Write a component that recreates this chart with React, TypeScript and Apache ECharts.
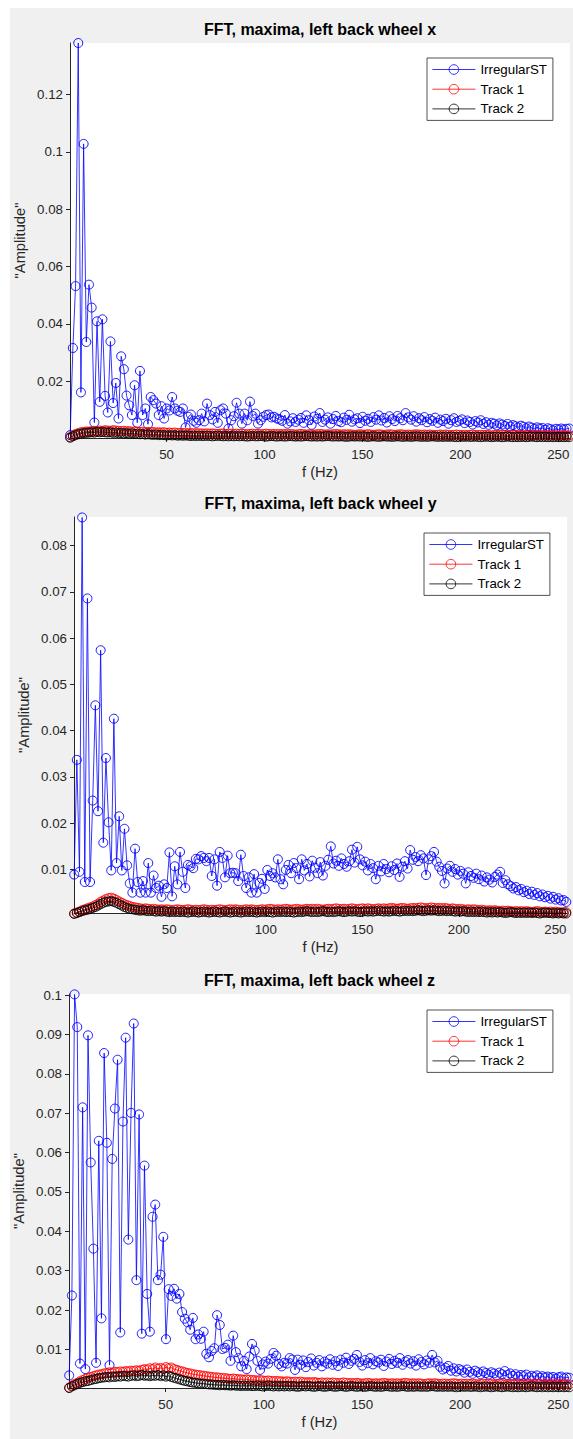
import React, { useEffect, useRef } from 'react';
import * as echarts from 'echarts';

// frequency grid of the FFT (Hz)
const FREQ_START = 0.8;
const FREQ_STEP = 1.37;

const SERIES_NAMES = ['IrregularST', 'Track 1', 'Track 2'];
const X_TICKS = [50, 100, 150, 200, 250];
const Y_TICKS_X = [0.02, 0.04, 0.06, 0.08, 0.1, 0.12];
const Y_TICKS_Y = [0.01, 0.02, 0.03, 0.04, 0.05, 0.06, 0.07, 0.08];
const Y_TICKS_Z = [0.01, 0.02, 0.03, 0.04, 0.05, 0.06, 0.07, 0.08, 0.09, 0.1];

// left back wheel x
const IRREGULAR_X = [
  0.0012, 0.0316, 0.0532, 0.138, 0.0161, 0.1028, 0.0337, 0.0537, 0.0457, 0.0056,
  0.0409, 0.0128, 0.0416, 0.0149, 0.0091, 0.0339, 0.0124, 0.0194, 0.007, 0.0287,
  0.0242, 0.015, 0.0116, 0.0082, 0.0186, 0.0055, 0.0236, 0.0082, 0.0105, 0.005,
  0.0145, 0.0134,
  0.0122, 0.0082, 0.0113, 0.007, 0.0105, 0.0098, 0.0145, 0.0105, 0.0097, 0.0093,
  0.0105, 0.0039, 0.0076, 0.0084, 0.0062, 0.0055, 0.0064, 0.0087, 0.006, 0.0122,
  0.0082, 0.0067, 0.0093, 0.0055, 0.0099, 0.0105, 0.0087, 0.0035, 0.0064, 0.0078,
  0.0125, 0.0087, 0.0052, 0.0087, 0.0064, 0.0129, 0.0079, 0.0087, 0.0052, 0.0064,
  0.0076, 0.0082, 0.0084, 0.0074, 0.0076, 0.007, 0.0067, 0.0062, 0.0082, 0.0052,
  0.006, 0.0071, 0.0058, 0.0066,
  0.0072, 0.0055, 0.0081, 0.0064, 0.0048, 0.0077, 0.0069, 0.0089, 0.0058, 0.0066,
  0.0074, 0.0052, 0.0068, 0.0079, 0.0061, 0.0057, 0.0073, 0.0065, 0.0083, 0.0059,
  0.0067, 0.0071, 0.0054, 0.0076, 0.0062, 0.0069, 0.0058, 0.0075, 0.0066, 0.0081,
  0.0063, 0.0072, 0.0056, 0.0078, 0.0068, 0.0061, 0.0079, 0.0071, 0.0064, 0.0089,
  0.0074, 0.0066, 0.0078, 0.0059, 0.0071, 0.0064, 0.0075, 0.0057, 0.0068, 0.0062,
  0.0073, 0.0055, 0.0066, 0.0061, 0.0069, 0.0052, 0.0064, 0.0071, 0.0058, 0.0062,
  0.0067, 0.0054, 0.0063, 0.0058, 0.0049, 0.0061, 0.0056, 0.0064, 0.0051, 0.0057,
  0.0048, 0.0055, 0.0052, 0.0046, 0.0053, 0.0049, 0.0044, 0.0051, 0.0042, 0.0047,
  0.0043, 0.0039, 0.0045, 0.0041, 0.0036, 0.0042, 0.0038, 0.0034, 0.0039, 0.0035,
  0.0037, 0.0031, 0.0036, 0.0033, 0.0029, 0.0034, 0.0031, 0.0035, 0.0032, 0.0034, 0.0035,
];
const TRACK1_X = [
  0.0005, 0.0011, 0.0016, 0.0019, 0.0022, 0.0023, 0.0025, 0.0024, 0.0026, 0.0027,
  0.0026, 0.0028, 0.0027, 0.0029, 0.0028, 0.0027, 0.0029, 0.0028, 0.0027, 0.0026,
  0.0027, 0.0025, 0.0026, 0.0024, 0.0025, 0.0024, 0.0023, 0.0024, 0.0022, 0.0023,
  0.0022, 0.0023, 0.0021, 0.0022, 0.0021, 0.0022, 0.002, 0.0021, 0.002, 0.0021,
  0.0019, 0.002, 0.0019, 0.002, 0.0018, 0.0019, 0.0018, 0.0019, 0.0018, 0.0018,
  0.0017, 0.0018, 0.0017, 0.0018, 0.0017, 0.0016, 0.0017, 0.0018, 0.0016, 0.0017,
  0.0017, 0.0016, 0.0017, 0.0016, 0.0017, 0.0016, 0.0015, 0.0016, 0.0017, 0.0016,
  0.0016, 0.0015, 0.0016, 0.0017, 0.0016, 0.0015, 0.0016, 0.0015, 0.0016, 0.0015,
  0.0016, 0.0015, 0.0016, 0.0015, 0.0014, 0.0015, 0.0016, 0.0015, 0.0014, 0.0015,
  0.0015, 0.0014, 0.0015, 0.0016, 0.0015, 0.0014, 0.0015, 0.0014, 0.0015, 0.0016,
  0.0015, 0.0014, 0.0015, 0.0014, 0.0015, 0.0014, 0.0013, 0.0014, 0.0015, 0.0014,
  0.0014, 0.0015, 0.0014, 0.0013, 0.0014, 0.0015, 0.0014, 0.0013, 0.0014, 0.0015,
  0.0014, 0.0013, 0.0014, 0.0015, 0.0014, 0.0013, 0.0014, 0.0013, 0.0014, 0.0015,
  0.0014, 0.0013, 0.0014, 0.0013, 0.0014, 0.0013, 0.0012, 0.0013, 0.0014, 0.0013,
  0.0014, 0.0013, 0.0012, 0.0013, 0.0014, 0.0013, 0.0012, 0.0013, 0.0012, 0.0013,
  0.0014, 0.0013, 0.0012, 0.0013, 0.0012, 0.0013, 0.0012, 0.0011, 0.0012, 0.0013,
  0.0012, 0.0013, 0.0012, 0.0011, 0.0012, 0.0013, 0.0012, 0.0011, 0.0012, 0.0011,
  0.0012, 0.0011, 0.0012, 0.0013, 0.0012, 0.0011, 0.0012, 0.0011, 0.0012, 0.0011,
  0.0012, 0.0011, 0.001, 0.0011, 0.0012, 0.0011, 0.0011,
];
const TRACK2_X = [
  0.0003, 0.0008, 0.0012, 0.0015, 0.0017, 0.0019, 0.002, 0.0021, 0.0022, 0.0021,
  0.0023, 0.0022, 0.0023, 0.0022, 0.0021, 0.0022, 0.002, 0.0021, 0.0019, 0.002,
  0.0018, 0.0019, 0.0017, 0.0018, 0.0016, 0.0017, 0.0015, 0.0016, 0.0014, 0.0015,
  0.0014, 0.0013, 0.0014, 0.0012, 0.0013, 0.0012, 0.0011, 0.0012, 0.0011, 0.0012,
  0.001, 0.0011, 0.001, 0.0011, 0.001, 0.0009, 0.001, 0.0009, 0.001, 0.0009,
  0.0009, 0.001, 0.0009, 0.0008, 0.0009, 0.001, 0.0009, 0.0008, 0.0009, 0.0008,
  0.0009, 0.0008, 0.0009, 0.0008, 0.0009, 0.0008, 0.0007, 0.0008, 0.0009, 0.0008,
  0.0008, 0.0009, 0.0008, 0.0007, 0.0008, 0.0009, 0.0008, 0.0007, 0.0008, 0.0008,
  0.0007, 0.0008, 0.0009, 0.0008, 0.0007, 0.0008, 0.0007, 0.0008, 0.0009, 0.0008,
  0.0007, 0.0008, 0.0007, 0.0008, 0.0007, 0.0008, 0.0009, 0.0008, 0.0007, 0.0008,
  0.0007, 0.0008, 0.0007, 0.0006, 0.0007, 0.0008, 0.0007, 0.0008, 0.0007, 0.0008,
  0.0007, 0.0006, 0.0007, 0.0008, 0.0007, 0.0006, 0.0007, 0.0008, 0.0007, 0.0007,
  0.0006, 0.0007, 0.0008, 0.0007, 0.0006, 0.0007, 0.0007, 0.0006, 0.0007, 0.0008,
  0.0007, 0.0006, 0.0007, 0.0006, 0.0007, 0.0008, 0.0007, 0.0006, 0.0007, 0.0006,
  0.0007, 0.0006, 0.0007, 0.0006, 0.0005, 0.0006, 0.0007, 0.0006, 0.0007, 0.0006,
  0.0006, 0.0007, 0.0006, 0.0005, 0.0006, 0.0007, 0.0006, 0.0005, 0.0006, 0.0007,
  0.0006, 0.0005, 0.0006, 0.0007, 0.0006, 0.0005, 0.0006, 0.0005, 0.0006, 0.0006,
  0.0005, 0.0006, 0.0007, 0.0006, 0.0005, 0.0006, 0.0005, 0.0006, 0.0005, 0.0006,
  0.0005, 0.0006, 0.0005, 0.0006, 0.0005, 0.0006, 0.0005,
];

// left back wheel y
const IRREGULAR_Y = [
  0.0089, 0.0337, 0.0095, 0.0861, 0.0073, 0.0686, 0.0073, 0.0249, 0.0455, 0.0226,
  0.0574, 0.0158, 0.0341, 0.0202, 0.0098, 0.0426, 0.0114, 0.0215, 0.0098, 0.0188,
  0.0109, 0.007, 0.005, 0.0145, 0.0073, 0.005, 0.0075, 0.005, 0.0114, 0.005,
  0.0087, 0.006, 0.0065, 0.0041, 0.0068, 0.006, 0.0137, 0.0042, 0.0107, 0.0068,
  0.0138, 0.0095, 0.006, 0.011, 0.0107, 0.0103, 0.0123, 0.0122, 0.0129, 0.0125,
  0.0118, 0.0125, 0.0086, 0.0122, 0.0065, 0.0138, 0.0125, 0.0083, 0.013, 0.0092,
  0.0093, 0.0092, 0.0075, 0.0132, 0.0086, 0.006, 0.0083, 0.005, 0.009, 0.005,
  0.0071, 0.008, 0.0058, 0.0099, 0.0086, 0.0092, 0.0083, 0.0122, 0.0079, 0.0068,
  0.0099, 0.011, 0.0092, 0.0114, 0.0103, 0.0079, 0.0122,
  0.0098, 0.0112, 0.0085, 0.0119, 0.0104, 0.0092, 0.0116, 0.0087, 0.0108, 0.0121,
  0.015, 0.0113, 0.0119, 0.0108, 0.0124, 0.0112, 0.0106, 0.0118, 0.0143, 0.0115,
  0.0149, 0.0122, 0.0109, 0.0117, 0.0098, 0.0112, 0.0103, 0.0079, 0.0108, 0.0096,
  0.0112, 0.0101, 0.0094, 0.0107, 0.0099, 0.0113, 0.0084, 0.0106, 0.0118, 0.0102,
  0.0142, 0.0121, 0.0127, 0.0118, 0.0131, 0.0124, 0.0088, 0.0122, 0.0129, 0.0138,
  0.0117, 0.0106, 0.0097, 0.007, 0.0102, 0.0108, 0.0095, 0.0101, 0.0089, 0.0097,
  0.0091, 0.007, 0.0094, 0.0086, 0.0082, 0.0091, 0.0079, 0.0087, 0.0074, 0.0083,
  0.0078, 0.0072, 0.0084, 0.0089, 0.0095, 0.0071, 0.0077, 0.0068, 0.0064, 0.0059,
  0.0062, 0.0055, 0.0058, 0.0051, 0.0054, 0.0047, 0.0052, 0.0045, 0.0049, 0.0042,
  0.0046, 0.004, 0.0043, 0.0037, 0.0041, 0.0035, 0.0038, 0.0033, 0.0034, 0.003,
];
const TRACK1_Y = [
  0.0005, 0.0007, 0.0009, 0.0012, 0.0014, 0.0016, 0.0018, 0.002, 0.0023, 0.0026,
  0.003, 0.0033, 0.0036, 0.0038, 0.0039, 0.0037, 0.0034, 0.0031, 0.0028, 0.0025,
  0.0023, 0.0021, 0.0019, 0.0018, 0.0017, 0.0016, 0.0015, 0.0016, 0.0015, 0.0014,
  0.0015, 0.0014, 0.0013, 0.0014, 0.0013, 0.0014, 0.0013, 0.0012, 0.0013, 0.0014,
  0.0013, 0.0012, 0.0013, 0.0014, 0.0013, 0.0012, 0.0013, 0.0012, 0.0013, 0.0014,
  0.0013, 0.0012, 0.0013, 0.0012, 0.0013, 0.0014, 0.0013, 0.0012, 0.0013, 0.0014,
  0.0013, 0.0014, 0.0013, 0.0012, 0.0013, 0.0014, 0.0013, 0.0014, 0.0013, 0.0012,
  0.0013, 0.0014, 0.0013, 0.0014, 0.0015, 0.0014, 0.0013, 0.0014, 0.0013, 0.0014,
  0.0015, 0.0014, 0.0013, 0.0014, 0.0015, 0.0014, 0.0013, 0.0014, 0.0015, 0.0014,
  0.0015, 0.0014, 0.0015, 0.0014, 0.0013, 0.0014, 0.0015, 0.0014, 0.0015, 0.0016,
  0.0015, 0.0014, 0.0015, 0.0014, 0.0015, 0.0016, 0.0015, 0.0014, 0.0015, 0.0016,
  0.0015, 0.0016, 0.0015, 0.0014, 0.0015, 0.0016, 0.0015, 0.0016, 0.0015, 0.0016,
  0.0017, 0.0016, 0.0015, 0.0016, 0.0017, 0.0016, 0.0015, 0.0016, 0.0017, 0.0016,
  0.0017, 0.0018, 0.0017, 0.0016, 0.0017, 0.0018, 0.0017, 0.0016, 0.0017, 0.0016,
  0.0017, 0.0016, 0.0015, 0.0016, 0.0015, 0.0014, 0.0015, 0.0014, 0.0013, 0.0014,
  0.0013, 0.0014, 0.0013, 0.0012, 0.0013, 0.0012, 0.0011, 0.0012, 0.0011, 0.0012,
  0.0011, 0.001, 0.0011, 0.001, 0.0011, 0.001, 0.0009, 0.001, 0.0009, 0.001,
  0.0009, 0.001, 0.0009, 0.0008, 0.0009, 0.001, 0.0009, 0.0008, 0.0009, 0.0008,
  0.0009, 0.0008, 0.0009, 0.0008, 0.0007, 0.0008, 0.0008,
];
const TRACK2_Y = [
  0.0004, 0.0006, 0.0008, 0.001, 0.0012, 0.0013, 0.0015, 0.0017, 0.0019, 0.0022,
  0.0025, 0.0028, 0.003, 0.0031, 0.0032, 0.003, 0.0028, 0.0025, 0.0022, 0.0019,
  0.0017, 0.0015, 0.0014, 0.0013, 0.0012, 0.0011, 0.0012, 0.0011, 0.001, 0.0011,
  0.001, 0.0009, 0.001, 0.0009, 0.001, 0.0009, 0.0008, 0.0009, 0.0008, 0.0009,
  0.0008, 0.0009, 0.0008, 0.0007, 0.0008, 0.0009, 0.0008, 0.0007, 0.0008, 0.0009,
  0.0008, 0.0007, 0.0008, 0.0009, 0.0008, 0.0007, 0.0008, 0.0009, 0.0008, 0.0007,
  0.0008, 0.0009, 0.0008, 0.0007, 0.0008, 0.0009, 0.0008, 0.0009, 0.0008, 0.0007,
  0.0008, 0.0009, 0.0008, 0.0009, 0.0008, 0.0007, 0.0008, 0.0009, 0.0008, 0.0009,
  0.0008, 0.0009, 0.0008, 0.0007, 0.0008, 0.0009, 0.0008, 0.0009, 0.001, 0.0009,
  0.0008, 0.0009, 0.0008, 0.0009, 0.001, 0.0009, 0.0008, 0.0009, 0.0008, 0.0009,
  0.001, 0.0009, 0.0008, 0.0009, 0.001, 0.0009, 0.001, 0.0009, 0.0008, 0.0009,
  0.001, 0.0009, 0.001, 0.0009, 0.001, 0.0011, 0.001, 0.0009, 0.001, 0.0009,
  0.001, 0.0011, 0.001, 0.0009, 0.001, 0.0011, 0.001, 0.0011, 0.001, 0.0011,
  0.0012, 0.0011, 0.001, 0.0011, 0.0012, 0.0011, 0.0012, 0.0011, 0.001, 0.0011,
  0.0011, 0.001, 0.0011, 0.001, 0.0009, 0.001, 0.0009, 0.001, 0.0009, 0.0008,
  0.0009, 0.0008, 0.0009, 0.0008, 0.0009, 0.0008, 0.0007, 0.0008, 0.0007, 0.0008,
  0.0007, 0.0008, 0.0007, 0.0006, 0.0007, 0.0008, 0.0007, 0.0006, 0.0007, 0.0006,
  0.0007, 0.0006, 0.0007, 0.0006, 0.0007, 0.0006, 0.0005, 0.0006, 0.0007, 0.0006,
  0.0006, 0.0005, 0.0006, 0.0005, 0.0006, 0.0005, 0.0005,
];

// left back wheel z
const IRREGULAR_Z = [
  0.0034, 0.0237, 0.1002, 0.0919, 0.0064, 0.0715, 0.005, 0.0898, 0.0575, 0.0356,
  0.0066, 0.063, 0.0179, 0.0853, 0.0625, 0.006, 0.0584, 0.0712, 0.0836, 0.0143,
  0.0679, 0.0892, 0.0379, 0.0701, 0.0928, 0.0276, 0.0697, 0.014, 0.0567, 0.0241,
  0.0145, 0.0437, 0.0468, 0.0276, 0.029, 0.0386, 0.0126, 0.0253, 0.0236,
  0.0254, 0.0229, 0.0241, 0.0195, 0.0178, 0.0169, 0.015, 0.018, 0.0126, 0.0138,
  0.0127, 0.0145, 0.0089, 0.008, 0.0096, 0.0103, 0.0187, 0.0162, 0.0101, 0.0104,
  0.0112, 0.0071, 0.0135, 0.0093, 0.0078, 0.0057, 0.0071, 0.005, 0.0082, 0.0114,
  0.0097, 0.0071, 0.0048, 0.0062, 0.0069, 0.0064, 0.0076, 0.0091, 0.0084, 0.0063,
  0.0057, 0.0066, 0.0064, 0.0078, 0.0074, 0.0048, 0.0074,
  0.0061, 0.0072, 0.0055, 0.0068, 0.0077, 0.0059, 0.0066, 0.0073, 0.0057, 0.0069,
  0.0064, 0.0075, 0.0061, 0.007, 0.0058, 0.0074, 0.0066, 0.0079, 0.0063, 0.0071,
  0.0076, 0.0086, 0.0068, 0.0059, 0.0073, 0.0065, 0.0078, 0.0062, 0.007, 0.0067,
  0.0074, 0.0058, 0.0069, 0.0076, 0.0063, 0.0071, 0.0066, 0.0078, 0.0061, 0.0069,
  0.0073, 0.0064, 0.007, 0.0059, 0.0075, 0.0068, 0.0062, 0.0072, 0.0066, 0.0086,
  0.0067, 0.0071, 0.0056, 0.0049, 0.0053, 0.0058, 0.0046, 0.0052, 0.0044, 0.005,
  0.0047, 0.0041, 0.0049, 0.0043, 0.0038, 0.0046, 0.0042, 0.0037, 0.0044, 0.004,
  0.0036, 0.0042, 0.0039, 0.0034, 0.0041, 0.0037, 0.0045, 0.0035, 0.0039, 0.0033,
  0.0037, 0.0031, 0.0035, 0.0032, 0.0036, 0.0029, 0.0033, 0.003, 0.0034, 0.0028,
  0.0032, 0.0029, 0.0031, 0.0027, 0.003, 0.0026, 0.0029, 0.0031, 0.0027, 0.0029, 0.0028,
];
const TRACK1_Z = [
  0.0003, 0.0008, 0.0012, 0.0015, 0.0019, 0.0022, 0.0025, 0.0028, 0.003, 0.0032,
  0.0034, 0.0036, 0.0037, 0.0039, 0.004, 0.0042, 0.0041, 0.0043, 0.0042, 0.0044,
  0.0043, 0.0045, 0.0044, 0.0046, 0.0045, 0.0047, 0.0046, 0.0048, 0.005, 0.0049,
  0.0052, 0.005, 0.0054, 0.0051, 0.0053, 0.005, 0.0055, 0.0052, 0.0054, 0.005,
  0.0048, 0.0046, 0.0044, 0.0042, 0.004, 0.0039, 0.0037, 0.0036, 0.0035, 0.0034,
  0.0033, 0.0032, 0.0031, 0.003, 0.0029, 0.0029, 0.0028, 0.0027, 0.0027, 0.0026,
  0.0025, 0.0026, 0.0025, 0.0024, 0.0024, 0.0023, 0.0024, 0.0023, 0.0022, 0.0022,
  0.0021, 0.0022, 0.0021, 0.002, 0.0021, 0.002, 0.0019, 0.002, 0.0019, 0.0019,
  0.0018, 0.0019, 0.0018, 0.0017, 0.0018, 0.0017, 0.0018, 0.0017, 0.0016, 0.0017,
  0.0016, 0.0017, 0.0016, 0.0015, 0.0016, 0.0015, 0.0016, 0.0015, 0.0016, 0.0015,
  0.0014, 0.0015, 0.0016, 0.0015, 0.0014, 0.0015, 0.0014, 0.0015, 0.0014, 0.0013,
  0.0014, 0.0015, 0.0014, 0.0013, 0.0014, 0.0013, 0.0014, 0.0015, 0.0014, 0.0013,
  0.0014, 0.0013, 0.0014, 0.0013, 0.0014, 0.0015, 0.0014, 0.0013, 0.0014, 0.0013,
  0.0014, 0.0013, 0.0012, 0.0013, 0.0014, 0.0013, 0.0014, 0.0013, 0.0012, 0.0013,
  0.0013, 0.0012, 0.0013, 0.0014, 0.0013, 0.0012, 0.0013, 0.0012, 0.0013, 0.0012,
  0.0013, 0.0012, 0.0011, 0.0012, 0.0013, 0.0012, 0.0013, 0.0012, 0.0011, 0.0012,
  0.0013, 0.0012, 0.0011, 0.0012, 0.0011, 0.0012, 0.0013, 0.0012, 0.0011, 0.0012,
  0.0011, 0.0012, 0.0011, 0.0012, 0.0013, 0.0012, 0.0011, 0.0012, 0.0011, 0.0012,
  0.0011, 0.0012, 0.0011, 0.0012, 0.0011, 0.0012, 0.0011,
];
const TRACK2_Z = [
  0.0002, 0.0006, 0.0009, 0.0012, 0.0015, 0.0017, 0.0019, 0.002, 0.0022, 0.0024,
  0.0025, 0.0027, 0.0028, 0.0029, 0.003, 0.0029, 0.0031, 0.003, 0.0032, 0.0031,
  0.0033, 0.0032, 0.0031, 0.0033, 0.0034, 0.0032, 0.0033, 0.0035, 0.0033, 0.0034,
  0.0032, 0.0034, 0.0033, 0.0035, 0.0032, 0.0034, 0.0031, 0.0033, 0.003, 0.0028,
  0.0026, 0.0024, 0.0022, 0.002, 0.0019, 0.0017, 0.0016, 0.0015, 0.0014, 0.0013,
  0.0013, 0.0012, 0.0011, 0.0011, 0.001, 0.001, 0.0009, 0.001, 0.0009, 0.0009,
  0.0008, 0.0009, 0.0008, 0.0008, 0.0007, 0.0008, 0.0007, 0.0008, 0.0007, 0.0007,
  0.0008, 0.0007, 0.0006, 0.0007, 0.0008, 0.0007, 0.0006, 0.0007, 0.0006, 0.0007,
  0.0006, 0.0007, 0.0006, 0.0007, 0.0006, 0.0005, 0.0006, 0.0007, 0.0006, 0.0007,
  0.0006, 0.0005, 0.0006, 0.0007, 0.0006, 0.0005, 0.0006, 0.0007, 0.0006, 0.0005,
  0.0006, 0.0007, 0.0006, 0.0005, 0.0006, 0.0007, 0.0006, 0.0005, 0.0006, 0.0006,
  0.0005, 0.0006, 0.0007, 0.0006, 0.0005, 0.0006, 0.0005, 0.0006, 0.0007, 0.0006,
  0.0005, 0.0006, 0.0005, 0.0006, 0.0007, 0.0006, 0.0005, 0.0006, 0.0005, 0.0006,
  0.0006, 0.0005, 0.0006, 0.0005, 0.0006, 0.0007, 0.0006, 0.0005, 0.0006, 0.0005,
  0.0006, 0.0005, 0.0006, 0.0005, 0.0004, 0.0005, 0.0006, 0.0005, 0.0006, 0.0005,
  0.0005, 0.0006, 0.0005, 0.0004, 0.0005, 0.0006, 0.0005, 0.0004, 0.0005, 0.0006,
  0.0005, 0.0004, 0.0005, 0.0006, 0.0005, 0.0004, 0.0005, 0.0004, 0.0005, 0.0005,
  0.0004, 0.0005, 0.0006, 0.0005, 0.0004, 0.0005, 0.0004, 0.0005, 0.0004, 0.0005,
  0.0004, 0.0005, 0.0004, 0.0005, 0.0004, 0.0005, 0.0004,
];

const FONT = "'Liberation Sans', Arial, Helvetica, sans-serif";
const AXIS_COLOR = '#262626';
const COLORS = ['#0000ff', '#ff0000', '#000000'];

// one panel per wheel direction
const PANELS = [
  {
    title: 'FFT, maxima, left back wheel x',
    grid: { left: 70, top: 43, width: 500, height: 395 },
    yMin: 0.0002, yMax: 0.138, yTicks: Y_TICKS_X,
    legendLeft: 427, legendTop: 58,
    series: [IRREGULAR_X, TRACK1_X, TRACK2_X],
  },
  {
    title: 'FFT, maxima, left back wheel y',
    grid: { left: 74, top: 517, width: 493, height: 396 },
    yMin: 0.0006, yMax: 0.0862, yTicks: Y_TICKS_Y,
    legendLeft: 424, legendTop: 533,
    series: [IRREGULAR_Y, TRACK1_Y, TRACK2_Y],
  },
  {
    title: 'FFT, maxima, left back wheel z',
    grid: { left: 69, top: 994, width: 501, height: 394 },
    yMin: 0.0002, yMax: 0.1003, yTicks: Y_TICKS_Z,
    legendLeft: 427, legendTop: 1010,
    series: [IRREGULAR_Z, TRACK1_Z, TRACK2_Z],
  },
];

const App: React.FC = () => {
  const chartRef = useRef<HTMLDivElement>(null);

  useEffect(() => {
    if (!chartRef.current) return;
    const chart = echarts.init(chartRef.current, undefined, { renderer: 'svg' });

    const grids: any[] = [];
    const xAxes: any[] = [];
    const yAxes: any[] = [];
    const legends: any[] = [];
    const series: any[] = [];
    const graphics: any[] = [
      // white margin of the screenshot around the grey figure
      { type: 'rect', shape: { x: 0, y: 0, width: 573, height: 8 }, style: { fill: '#ffffff' } },
      { type: 'rect', shape: { x: 0, y: 0, width: 10, height: 1439 }, style: { fill: '#ffffff' } },
    ];

    PANELS.forEach((p, idx) => {
      const g = p.grid;
      const cx = g.left + g.width / 2;
      grids.push({
        ...g,
        show: true,
        backgroundColor: '#ffffff',
        borderWidth: 0,
      });
      xAxes.push({
        type: 'value',
        gridIndex: idx,
        min: 0.7,
        max: 256,
        axisLine: { show: true, onZero: false, lineStyle: { color: AXIS_COLOR, width: 1 } },
        axisTick: { show: true, length: 4, customValues: X_TICKS, lineStyle: { color: AXIS_COLOR } },
        axisLabel: {
          customValues: X_TICKS,
          margin: 10,
          color: AXIS_COLOR,
          fontSize: 13.3,
          fontFamily: FONT,
        },
        splitLine: { show: false },
      });
      yAxes.push({
        type: 'value',
        gridIndex: idx,
        min: p.yMin,
        max: p.yMax,
        axisLine: { show: true, onZero: false, lineStyle: { color: AXIS_COLOR, width: 1 } },
        axisTick: { show: true, length: 4, customValues: p.yTicks, lineStyle: { color: AXIS_COLOR } },
        axisLabel: {
          customValues: p.yTicks,
          margin: 7,
          color: AXIS_COLOR,
          fontSize: 13.3,
          fontFamily: FONT,
          formatter: (v: number) => String(Math.round(v * 1000) / 1000),
        },
        splitLine: { show: false },
      });
      legends.push({
        orient: 'vertical',
        left: p.legendLeft,
        top: p.legendTop,
        itemWidth: 43,
        itemHeight: 12,
        itemGap: 6.7,
        padding: [5, 6, 5, 5],
        backgroundColor: '#ffffff',
        borderColor: AXIS_COLOR,
        borderWidth: 0.8,
        borderRadius: 0,
        selectedMode: false,
        itemStyle: { borderWidth: 0.8 },
        lineStyle: { width: 0.8 },
        textStyle: { fontSize: 13.3, fontFamily: FONT, color: '#000000' },
        data: SERIES_NAMES,
      });
      p.series.forEach((values, s) => {
        const color = COLORS[s];
        series.push({
          name: SERIES_NAMES[s],
          type: 'line',
          xAxisIndex: idx,
          yAxisIndex: idx,
          data: values.map((v, i) => [FREQ_START + FREQ_STEP * i, v]),
          symbol: 'circle',
          symbolSize: 9,
          showSymbol: true,
          clip: false,
          silent: true,
          lineStyle: { color, width: 0.8 },
          itemStyle: { color: 'rgba(0,0,0,0)', borderColor: color, borderWidth: 0.9 },
          emphasis: { disabled: true },
        });
      });
      graphics.push(
        {
          type: 'text',
          x: cx,
          y: g.top - 14,
          style: {
            text: p.title,
            font: `bold 16px ${FONT}`,
            fill: '#000000',
            textAlign: 'center',
            textVerticalAlign: 'middle',
          },
        },
        {
          type: 'text',
          x: cx,
          y: g.top + g.height + 34,
          style: {
            text: 'f (Hz)',
            font: `14.7px ${FONT}`,
            fill: AXIS_COLOR,
            textAlign: 'center',
            textVerticalAlign: 'middle',
          },
        },
        {
          type: 'text',
          x: g.left - 50,
          y: g.top + g.height / 2,
          rotation: Math.PI / 2,
          style: {
            text: '"Amplitude"',
            font: `14.7px ${FONT}`,
            fill: AXIS_COLOR,
            textAlign: 'center',
            textVerticalAlign: 'middle',
          },
        }
      );
    });

    chart.setOption({
      animation: false,
      backgroundColor: '#f0f0f0',
      grid: grids,
      xAxis: xAxes,
      yAxis: yAxes,
      legend: legends,
      series,
      graphic: graphics,
    });

    return () => {
      chart.dispose();
    };
  }, []);

  return (
    <div
      ref={chartRef}
      style={{ position: 'absolute', left: 0, top: 0, width: 573, height: 1439 }}
    />
  );
};

export default App;
